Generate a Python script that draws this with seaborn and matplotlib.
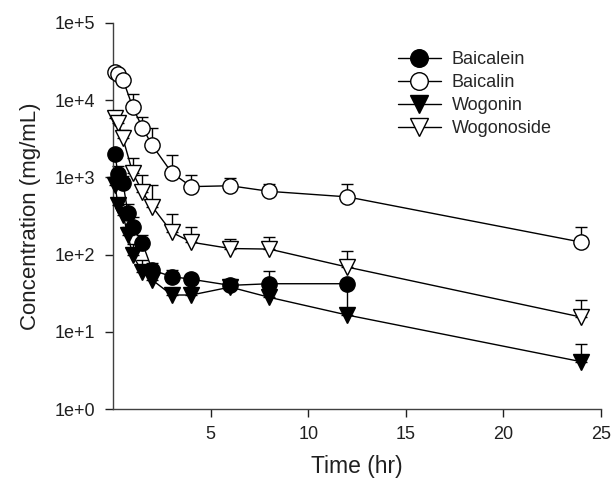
import numpy as np
import pandas as pd
import matplotlib
matplotlib.use("Agg")
import matplotlib.pyplot as plt
import seaborn as sns
from matplotlib.ticker import FixedLocator, FuncFormatter

sns.set_style("ticks")
plt.rcParams['font.family'] = ['Liberation Sans', 'DejaVu Sans']

# ---- data ----
baicalein_t = [0.083, 0.25, 0.5, 0.75, 1, 1.5, 2, 3, 4, 6, 8, 12]
baicalein_y = [2000, 1100, 850, 350, 230, 140, 63, 52, 48, 40, 42, 42]
baicalein_e = [300, 300, 200, 100, 80, 40, 15, 12, 8, 8, 20, 5]

baicalin_t = [0.083, 0.25, 0.5, 1, 1.5, 2, 3, 4, 6, 8, 12, 24]
baicalin_y = [23000, 22000, 18500, 8100, 4400, 2600, 1150, 760, 780, 660, 560, 145]
baicalin_e = [1500, 1500, 1500, 3900, 1600, 1800, 800, 310, 200, 150, 260, 85]

wogonin_t = [0.083, 0.25, 0.5, 0.75, 1, 1.5, 2, 3, 4, 6, 8, 12, 24]
wogonin_y = [800, 440, 330, 180, 98, 59, 47, 30, 30, 38, 28, 16.5, 4.1]
wogonin_e = [200, 100, 80, 50, 40, 25, 15, 6, 6, 6, 12, 22, 2.8]

wogonoside_t = [0.083, 0.25, 0.5, 1, 1.5, 2, 3, 4, 6, 8, 12, 24]
wogonoside_y = [5900, 5000, 3200, 1150, 650, 420, 195, 145, 120, 118, 69, 15.5]
wogonoside_e = [900, 800, 900, 650, 420, 370, 145, 85, 40, 50, 43, 10.5]

series = [
    ("Baicalein", baicalein_t, baicalein_y, baicalein_e, "o", "black"),
    ("Baicalin", baicalin_t, baicalin_y, baicalin_e, "o", "white"),
    ("Wogonin", wogonin_t, wogonin_y, wogonin_e, "v", "black"),
    ("Wogonoside", wogonoside_t, wogonoside_y, wogonoside_e, "v", "white"),
]

x_ticks = [5, 10, 15, 20, 25]
y_ticks = [1, 10, 100, 1000, 10000, 100000]

fig = plt.figure(figsize=(6.12, 4.79), dpi=100)
ax = fig.add_axes([0.185, 0.146, 0.797, 0.806])

for z, (name, t, y, e, mk, fc) in enumerate(series):
    df = pd.DataFrame({"Time": t, "Conc": y})
    eb = ax.errorbar(t, y, yerr=[np.zeros(len(e)), e], fmt='none', ecolor='black',
                     elinewidth=1.0, capsize=4, capthick=1.0, zorder=2 + z)
    for art in eb.lines[1] + eb.lines[2]:
        art.set_clip_on(False)
    sns.lineplot(data=df, x="Time", y="Conc", ax=ax, color="black", linewidth=1.0,
                 marker=mk, markersize=11 if mk == "o" else 11.5,
                 markerfacecolor=fc, markeredgecolor="black", markeredgewidth=1.0,
                 label=name, zorder=3 + z, clip_on=False)

ax.set_yscale("log")
ax.set_xlim(0, 25)
ax.set_ylim(1, 100000)
ax.xaxis.set_major_locator(FixedLocator(x_ticks))
ax.yaxis.set_major_locator(FixedLocator(y_ticks))
ax.yaxis.set_minor_locator(FixedLocator([]))
ax.yaxis.set_major_formatter(FuncFormatter(lambda v, p: f"1e+{int(round(np.log10(v)))}"))
ax.tick_params(axis='both', direction='out', length=6, width=1, labelsize=13, colors='#202020')
ax.tick_params(axis='x', pad=6)
ax.tick_params(axis='y', pad=7)
ax.set_xlabel("Time (hr)", fontsize=16.5, labelpad=9, color='#202020')
ax.set_ylabel("Concentration (mg/mL)", fontsize=16, labelpad=10, color='#202020')
for s in ["top", "right"]:
    ax.spines[s].set_visible(False)
for s in ["left", "bottom"]:
    ax.spines[s].set_color("#404040")
    ax.spines[s].set_linewidth(1.0)

leg = ax.legend(loc="upper left", bbox_to_anchor=(0.55, 0.969), frameon=False,
                fontsize=13, handlelength=2.4, labelspacing=0.33, handletextpad=0.6,
                markerscale=1.15)

fig.savefig("out.png", dpi=100)
